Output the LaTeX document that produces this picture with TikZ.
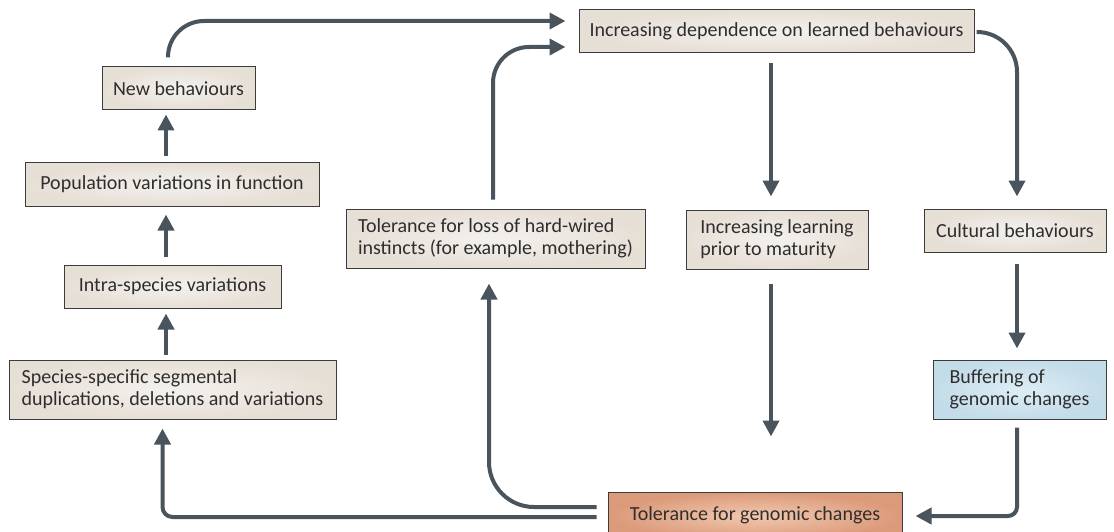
\documentclass[tikz,border=0pt]{standalone}
\usepackage{fontspec}
\setmainfont{Carlito}
\usetikzlibrary{arrows.meta}
\hyphenpenalty=10000
\exhyphenpenalty=10000
\definecolor{arrc}{HTML}{4A545C}
\definecolor{boxline}{HTML}{3C3C3C}
\definecolor{textc}{HTML}{2E2E2E}
\definecolor{beigeA}{HTML}{F4F1ED}
\definecolor{beigeB}{HTML}{E6DFD6}
\definecolor{blueA}{HTML}{DDEDF5}
\definecolor{blueB}{HTML}{C3DCE9}
\definecolor{salA}{HTML}{F2C8AF}
\definecolor{salB}{HTML}{DB9A7A}
\begin{document}
\begin{tikzpicture}[x=1pt,y=-1pt,
  box/.style={draw=boxline, line width=1pt, inner color=beigeA, outer color=beigeB,
    text=textc, font=\fontsize{20}{22}\selectfont, inner sep=0pt},
  onebox/.style={box, minimum height=43pt},
  twobox/.style={box, align=left, minimum height=59pt},
  arr/.style={line width=4pt, draw=arrc, -{Triangle[length=16pt,width=16pt]}}]
\clip (0,0) rectangle (1114,532);
% nodes
\node[onebox, minimum width=153pt] (nb) at (178.5,88.5) {New behaviours};
\node[onebox, minimum width=294pt] (pop) at (172,184.5) {Population variations in function};
\node[onebox, minimum width=217pt] (intra) at (172.5,286.5) {Intra-species variations};
\node[twobox, minimum width=327pt] (spec) at (172.5,389.5) {Species-specific segmental\\duplications, deletions and variations};
\node[twobox, minimum width=299pt] (loss) at (495.5,238.5) {Tolerance for loss of hard-wired\\instincts (for example, mothering)};
\node[onebox, minimum width=395pt] (dep) at (776.5,31.5) {Increasing dependence on learned behaviours};
\node[twobox, minimum width=182pt] (learn) at (777,239.5) {Increasing learning\\prior to maturity};
\node[onebox, minimum width=182pt] (cult) at (1015,230.5) {Cultural behaviours};
\node[twobox, minimum width=173pt, inner color=blueA, outer color=blueB] (buff) at (1019.5,389.5) {Buffering of\\genomic changes};
\node[box, minimum width=294pt, minimum height=48pt, inner color=salA, outer color=salB] (tol) at (755,516) {\raisebox{4pt}{Tolerance for genomic changes}};
% connectors
\draw[arr] ([xshift=-6.5pt,yshift=5pt]spec.north) -- ([xshift=-6.5pt,yshift=-5pt]intra.south);
\draw[arr] ([xshift=-6.5pt,yshift=8pt]intra.north) -- ([xshift=-6pt,yshift=-8pt]pop.south);
\draw[arr] ([xshift=-6pt,yshift=6pt]pop.north) -- ([xshift=-12.5pt,yshift=-4pt]nb.south);
\draw[arr, rounded corners=36pt] ([xshift=-10.5pt,yshift=9pt]nb.north) |- ([xshift=-13pt,yshift=10.5pt]dep.west);
\draw[arr, rounded corners=36pt] ([xshift=-2.5pt,yshift=9pt]loss.north) |- ([xshift=-13pt,yshift=-15.5pt]dep.west);
\draw[arr, rounded corners=40pt] ([xshift=2pt,yshift=-0.5pt]dep.east) -| ([xshift=2pt,yshift=12pt]cult.north);
\draw[arr] ([xshift=-5.5pt,yshift=-10pt]dep.south) -- ([xshift=-6pt,yshift=13pt]learn.north);
\draw[arr] ([xshift=-6pt,yshift=-14pt]learn.south) -- ([xshift=16pt,yshift=55pt]tol.north);
\draw[arr] ([xshift=2pt,yshift=-11pt]cult.south) -- ([xshift=-2.5pt,yshift=11pt]buff.north);
\draw[arr, rounded corners=9pt] ([xshift=-2.5pt,yshift=-8pt]buff.south) |- ([xshift=13pt]tol.east);
\draw[arr, rounded corners=10pt] ([xshift=-11pt,yshift=-1pt]tol.west) -| ([xshift=-10pt,yshift=-9pt]spec.south);
\draw[arr, rounded corners=45pt] ([xshift=-11pt,yshift=9pt]tol.west) -| ([xshift=-6.5pt,yshift=-15pt]loss.south);
\end{tikzpicture}
\end{document}
